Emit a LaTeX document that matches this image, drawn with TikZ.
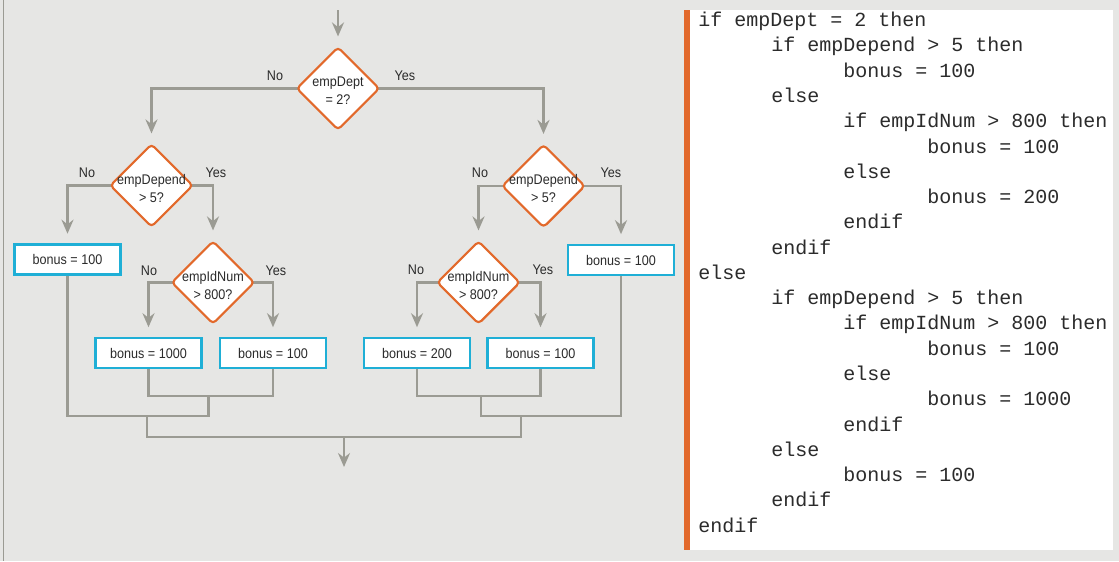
\documentclass[tikz,border=0pt]{standalone}
\usepackage{fontspec}
\setmainfont{Liberation Sans}
\newfontfamily\flowfont[FakeStretch=0.9]{Liberation Sans}
\newfontfamily\codefont{Liberation Mono}
\usetikzlibrary{shapes.geometric, arrows.meta}
\definecolor{paper}{HTML}{E6E6E4}
\definecolor{wire}{HTML}{9B9B93}
\definecolor{decide}{HTML}{E2692B}
\definecolor{assign}{HTML}{1FAFD6}
\definecolor{ink}{HTML}{2B2B2B}
\pgfdeclarelayer{back}
\pgfdeclarelayer{wires}
\pgfsetlayers{back,wires,main}
\tikzset{
  link/.style={draw=wire, line width=2pt},
  flowend/.style={link, -{Stealth[length=10.5pt, width=9pt, inset=3.5pt]}},
  flow/.style={flowend, shorten >=7pt},
  decision/.style={diamond, draw=decide, fill=white, line width=1.6pt, rounded corners=3pt,
    minimum width=62.5pt, minimum height=62.5pt, inner sep=0pt},
  dtext/.style={font=\flowfont\fontsize{10.5}{13.5}\selectfont, text=ink, align=center, yshift=-2pt},
  assignbox/.style={draw=assign, fill=white, line width=2.2pt, minimum width=79.5pt,
    minimum height=22.5pt, inner sep=0pt, font=\flowfont\fontsize{10.5}{13.5}\selectfont, text=ink},
  branch/.style={font=\flowfont\fontsize{10.5}{13.5}\selectfont, text=ink, inner sep=0pt},
  codeline/.style={anchor=base west, inner sep=0pt, font=\codefont\fontsize{15}{18}\selectfont, text=ink},
}
\begin{document}
\begin{tikzpicture}[x=0.75pt, y=-0.75pt]
  \useasboundingbox (0,0) rectangle (1119,561);
  \begin{pgfonlayer}{back}
    \fill[paper] (0,0) rectangle (1119,561);
    \draw[wire, line width=1.2pt] (3.5,0) -- (3.5,561);
    \fill[white] (684,10) rectangle (1113,550);
    \fill[decide] (684,10) rectangle (689.5,550);
  \end{pgfonlayer}

  % decisions
  \foreach \nm/\x/\y/\lineA/\lineB in {dDept/338/88.5/empDept/= 2?, dDepL/151.5/185.5/empDepend/> 5?,
      dNumL/213/282.5/empIdNum/> 800?, dNumR/478.5/282.5/empIdNum/> 800?, dDepR/543.5/186/empDepend/> 5?} {
    \node[decision, label={[dtext]center:{\lineA\\\lineB}}] (\nm) at (\x,\y) {};
  }
  % assignments
  \foreach \nm/\x/\y/\val in {bA/67.5/259.5/100, bB/148.5/353/1000, bC/273/353/100,
      bD/417/353/200, bE/540.5/353/100, bF/621/260/100} {
    \node[assignbox] (\nm) at (\x,\y) {bonus = \val};
  }
  \foreach \x/\y/\t in {275/76/No, 405/76/Yes, 87/173/No, 216/173/Yes, 149/271/No, 276/271/Yes,
      416/270/No, 543/270/Yes, 480/173/No, 611/173/Yes} {
    \node[branch] (br\x) at (\x,\y) {\t};
  }

  \begin{pgfonlayer}{wires}
    \coordinate (entry) at (338,10);
    \draw[flow] (entry) -- (dDept.north);
    \draw[flow, shorten <=-3pt] (dDept.west) -| (dDepL.north);
    \draw[flow, shorten <=-3pt] (dDept.east) -| (dDepR.north);
    \draw[flow, shorten <=-3pt] (dDepL.west) -| (bA.north);
    \draw[flow, shorten <=-3pt] (dDepL.east) -| (dNumL.north);
    \draw[flow, shorten <=-3pt] (dNumL.west) -| (bB.north);
    \draw[flow, shorten <=-3pt] (dNumL.east) -| (bC.north);
    \draw[flow, shorten <=-3pt] (dDepR.west) -| (dNumR.north);
    \draw[flow, shorten <=-3pt] (dDepR.east) -| (bF.north);
    \draw[flow, shorten <=-3pt] (dNumR.west) -| (bD.north);
    \draw[flow, shorten <=-3pt] (dNumR.east) -| (bE.north);

    \coordinate (jL1) at (208.5,396);
    \coordinate (jL2) at (208.5,416);
    \coordinate (jL3) at (147,416);
    \coordinate (jL4) at (147,437);
    \coordinate (jR1) at (481,396);
    \coordinate (jR2) at (481,416);
    \coordinate (jR3) at (521,416);
    \coordinate (jR4) at (521,437);
    \coordinate (exit) at (344,437);
    \coordinate (done) at (344,467);
    \draw[link, shorten <=-3pt, shorten >=-3pt] (bB.south) |- (jL1) -| (bC.south);
    \draw[link, shorten <=-3pt] (bA.south) |- (jL2) -- (jL1);
    \draw[link, shorten <=-3pt, shorten >=-3pt] (bD.south) |- (jR1) -| (bE.south);
    \draw[link, shorten <=-3pt] (bF.south) |- (jR2) -- (jR1);
    \draw[link] (jL3) -- (jL4) -- (jR4) -- (jR3);
    \draw[flowend] (exit) -- (done);
  \end{pgfonlayer}

  % pseudocode
  \foreach \n/\x/\txt in {1/698/if empDept = 2 then, 2/771/if empDepend > 5 then, 3/843/bonus = 100,
      4/771/else, 5/843/if empIdNum > 800 then, 6/927/bonus = 100, 7/843/else, 8/927/bonus = 200,
      9/843/endif, 10/771/endif, 11/698/else, 12/771/if empDepend > 5 then,
      13/843/if empIdNum > 800 then, 14/927/bonus = 100, 15/843/else, 16/927/bonus = 1000,
      17/843/endif, 18/771/else, 19/843/bonus = 100, 20/771/endif, 21/698/endif} {
    \node[codeline] (code\n) at (\x, {26.7+25.27*(\n-1)}) {\txt};
  }
\end{tikzpicture}
\end{document}
